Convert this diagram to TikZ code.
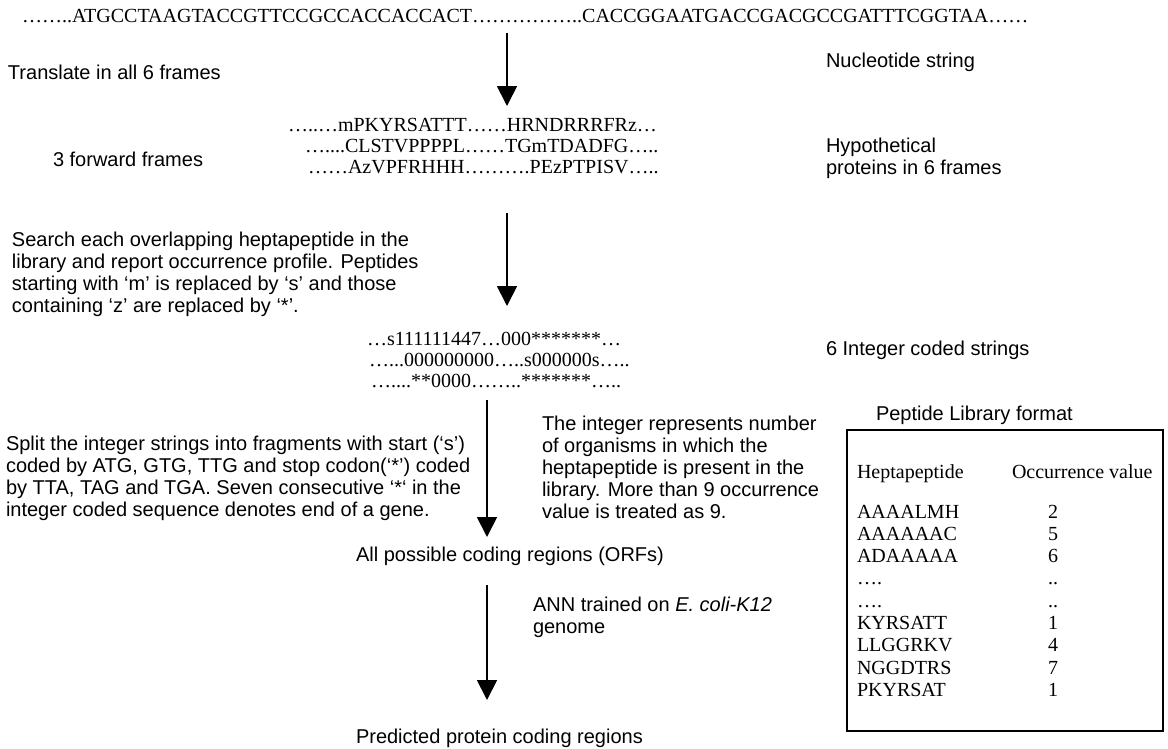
\documentclass[tikz,border=0pt]{standalone}
\usepackage{fontspec}
\setmainfont{Liberation Serif}
\setsansfont{Liberation Sans}
\usetikzlibrary{arrows.meta}
\newcommand{\myss}{\sffamily\fontsize{20}{22}\selectfont}
\newcommand{\myrm}{\rmfamily\fontsize{20}{22}\selectfont}
\tikzset{
  every node/.style={inner sep=0pt, outer sep=0pt},
  lbl/.style={font=\myss, anchor=base west},
  seq/.style={font=\myrm, anchor=base west},
  para/.style={font=\myss, align=left, anchor=north west},
  flow/.style={line width=1.8pt, -{Triangle[width=20pt,length=20pt]}},
  tablebox/.style={draw, line width=1.4pt},
}
\begin{document}
\begin{tikzpicture}[x=1pt,y=-1pt]
\fill[white] (0,0) rectangle (1168,748);
\useasboundingbox (0,0) rectangle (1168,748);

% nucleotide string
\node[seq] (nuc) at (22,22) {……..ATGCCTAAGTACCGTTCCGCCACCACCACT……………..CACCGGAATGACCGACGCCGATTTCGGTAA……};
\node[lbl] (nuclbl) at (826,67) {Nucleotide string};
\node[lbl] (transl) at (8,79) {Translate in all 6 frames};

\coordinate (a1s) at (507,33);
\coordinate (a1e) at (507,106);
\draw[flow] (a1s) -- (a1e);

% proteins
\node[seq] (p1) at (288,131) {…..…mPKYRSATTT……HRNDRRRFRz…};
\node[seq] (p2) at (305,152) {…....CLSTVPPPPL……TGmTDADFG…..};
\node[seq] (p3) at (308,173) {……AzVPFRHHH……….PEzPTPISV…..};
\node[lbl] (fwd) at (53,166) {3 forward frames};
\node[para] (hyp) at (826,138) {Hypothetical\\proteins in 6 frames};

\coordinate (a2s) at (507,213);
\coordinate (a2e) at (507,306);
\draw[flow] (a2s) -- (a2e);

\node[para] (search) at (12,232)
  {Search each overlapping heptapeptide in the\\library and report occurrence profile. Peptides\\starting with ‘m’ is replaced by ‘s’ and those\\containing ‘z’ are replaced by ‘*’.};

% integer strings
\node[seq] (i1) at (367,345) {…s111111447…000*******…};
\node[seq] (i2) at (369,366) {…...000000000…..s000000s…..};
\node[seq] (i3) at (371,387) {…....**0000……..*******…..};
\node[lbl] (intlbl) at (826,355) {6 Integer coded strings};

\coordinate (a3s) at (487,400);
\coordinate (a3e) at (487,537);
\draw[flow] (a3s) -- (a3e);

\node[para] (split) at (6,436)
  {Split the integer strings into fragments with start (‘s’)\\coded by ATG, GTG, TTG and stop codon(‘*’) coded\\by TTA, TAG and TGA. Seven consecutive ‘*‘ in the\\integer coded sequence denotes end of a gene.};

\node[para] (intpara) at (542,416)
  {The integer represents number\\of organisms in which the\\heptapeptide is present in the\\library. More than 9 occurrence\\value is treated as 9.};

\node[lbl] (orf) at (356,561) {All possible coding regions (ORFs)};

\coordinate (a4s) at (487,585);
\coordinate (a4e) at (487,700);
\draw[flow] (a4s) -- (a4e);

\node[para] (ann) at (533,597)
  {ANN trained on \textit{E. coli-K12}\\genome};

\node[lbl] (pred) at (356,743) {Predicted protein coding regions};

% peptide library
\node[lbl] (libttl) at (876,420) {Peptide Library format};
\draw[tablebox] (847,430) rectangle (1163,731);
\node[seq] (hdr1) at (857,478) {Heptapeptide};
\node[seq] (hdr2) at (1012,478) {Occurrence value};
\foreach \p/\v [count=\i from 0] in {AAAALMH/2, AAAAAAC/5, ADAAAAA/6, …./.., …./.., KYRSATT/1, LLGGRKV/4, NGGDTRS/7, PKYRSAT/1}{
  \node[seq] (r\i) at (857,{518+22.3*\i}) {\p};
  \node[seq, anchor=base] (v\i) at (1053,{518+22.3*\i}) {\v};
}
\end{tikzpicture}
\end{document}
